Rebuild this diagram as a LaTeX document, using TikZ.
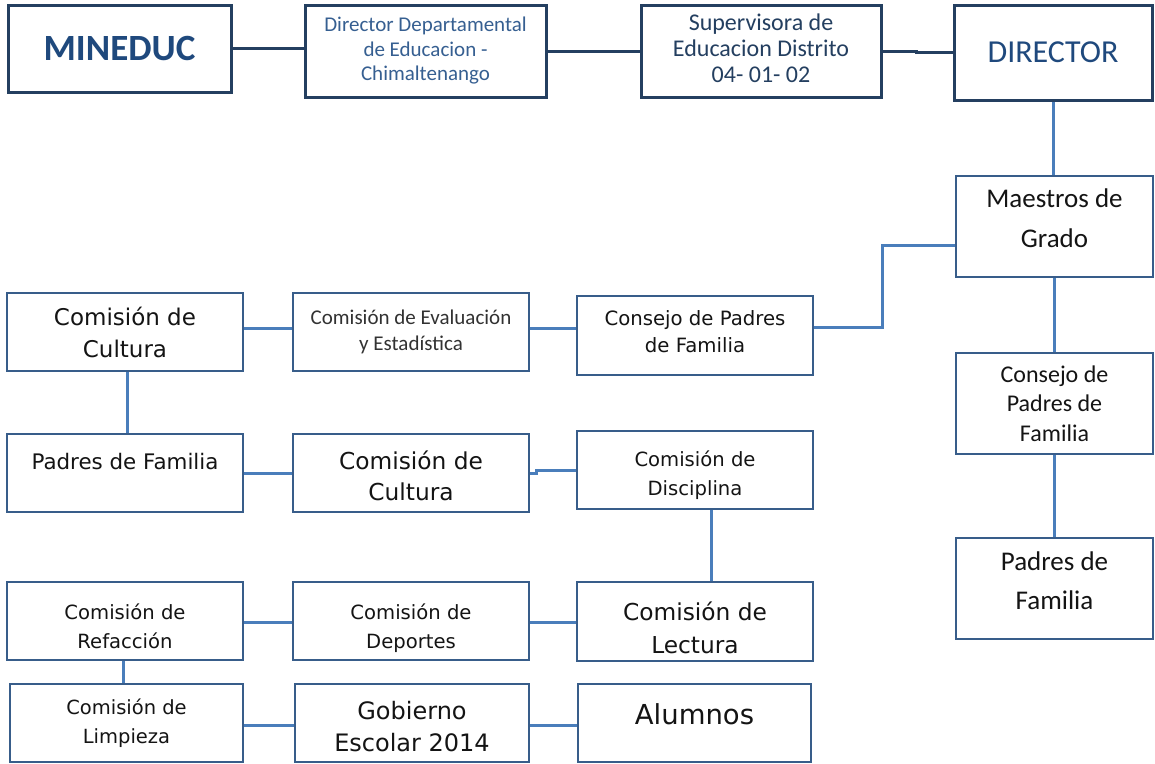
\documentclass[tikz,border=0pt]{standalone}
\usepackage{fontspec}
\setmainfont{Carlito}
\newfontfamily\calfont{Carlito}
\newfontfamily\verfont{DejaVu Sans}
\newcommand\myfs[2]{\fontsize{#1}{#2}\selectfont}
\definecolor{navy}{RGB}{36,63,96}
\definecolor{bord}{RGB}{56,93,138}
\definecolor{conn}{RGB}{74,126,187}
\definecolor{tnavy}{RGB}{31,73,125}
\definecolor{tblue}{RGB}{54,95,145}
\definecolor{tdark}{RGB}{20,20,20}
\definecolor{tgray}{RGB}{50,50,50}
\begin{document}
\begin{tikzpicture}[x=1pt,y=-1pt,
  box/.style={draw=bord, line width=2.5pt, fill=white, align=center, inner sep=0pt, text=tdark},
  topbox/.style={box, draw=navy, line width=3pt},
  wbox/.style={box, minimum width=236pt, minimum height=78pt},
  rbox/.style={box, minimum width=197pt, minimum height=101pt},
  link/.style={draw=conn, line width=3pt},
  toplink/.style={draw=navy, line width=3pt}]
\useasboundingbox (0,0) rectangle (1155,763);
% top row
\node[topbox, minimum width=223pt, minimum height=87pt, text=tnavy, font={\calfont\bfseries\myfs{37}{40}}] (mineduc) at (119.5,48.5) {MINEDUC};
\node[topbox, minimum width=241pt, minimum height=92pt, text=tblue, font={\calfont\myfs{21}{24.5}}] (dirdep) at (425.5,51) {Director Departamental\\de Educacion -\\Chimaltenango};
\node[topbox, minimum width=240pt, minimum height=92pt, text=navy, font={\calfont\myfs{24}{26}}, text depth=6pt] (superv) at (761,51) {Supervisora de\\Educacion Distrito\\04- 01- 02};
\node[topbox, minimum width=198pt, minimum height=95pt, text=tnavy, font={\calfont\myfs{32}{36}}] (director) at (1053,52.5) {DIRECTOR};
% right column
\node[rbox, font={\calfont\myfs{27}{40}}, text depth=16pt] (maestros) at (1054.5,226.5) {Maestros de\\Grado};
\node[rbox, font={\calfont\myfs{24}{29.5}}] (consR) at (1054.5,403.5) {Consejo de\\Padres de\\Familia};
\node[rbox, font={\calfont\myfs{27}{39}}, text depth=15pt] (padresR) at (1054.5,588.5) {Padres de\\Familia};
% row 2
\node[wbox, font={\verfont\myfs{23}{32}}] (cultura1) at (125,332) {Comisión de\\Cultura};
\node[wbox, font={\calfont\myfs{21}{26}}, text=tgray] (evaluacion) at (411,332) {Comisión de Evaluación\\y Estadística};
\node[wbox, minimum height=79pt, font={\verfont\myfs{19.7}{27}}, text depth=7pt] (consM) at (695,335.5) {Consejo de Padres\\de Familia};
% row 3
\node[wbox, font={\verfont\myfs{21.4}{26}}, text depth=23pt] (padresL) at (125,473) {Padres de Familia};
\node[wbox, font={\verfont\myfs{23.3}{31}}, text height=55.6pt] (cultura2) at (411,473) {Comisión de\\Cultura};
\node[wbox, font={\verfont\myfs{19.6}{29}}, text height=54.7pt] (disciplina) at (695,470) {Comisión de\\Disciplina};
% row 4
\node[wbox, font={\verfont\myfs{19.6}{29}}, text height=54.7pt] (refaccion) at (125,621) {Comisión de\\Refacción};
\node[wbox, font={\verfont\myfs{19.6}{29}}, text height=58.7pt] (deportes) at (411,621) {Comisión de\\Deportes};
\node[wbox, minimum height=79pt, font={\verfont\myfs{23.3}{33}}, text height=63.6pt] (lectura) at (695,621.5) {Comisión de\\Lectura};
% row 5
\node[wbox, minimum width=233pt, font={\verfont\myfs{19.5}{29}}] (limpieza) at (126.5,723) {Comisión de\\Limpieza};
\node[wbox, minimum width=234pt, font={\verfont\myfs{24}{32}}, text height=58.2pt] (gobierno) at (412,723) {Gobierno\\Escolar 2014};
\node[wbox, minimum width=233pt, font={\verfont\myfs{27.5}{30}}, text depth=18pt] (alumnos) at (694.5,723) {Alumnos};
% top connectors
\draw[toplink] (mineduc.east) -- (mineduc.east -| dirdep.west);
\draw[toplink] (dirdep.east) -- (superv.west);
\draw[toplink] (superv.east) -- ++(34,0) |- (director.west);
% right column connectors
\draw[link] (director.south) -- (director.south |- maestros.north);
\draw[link] (maestros.south) -- (consR.north);
\draw[link] (consR.south) -- (padresR.north);
\draw[link] ([yshift=-18.5pt]maestros.west) -- ++(-72,0) |- ([yshift=8.5pt]consM.east);
% row 2
\draw[link] ([yshift=4pt]cultura1.east) -- ([yshift=4pt]evaluacion.west);
\draw[link] ([yshift=4pt]evaluacion.east) -- ([yshift=4pt]evaluacion.east -| consM.west);
\draw[link] ([xshift=2pt]cultura1.south) -- ([xshift=2pt]padresL.north);
% row 3
\draw[link] (padresL.east) -- (cultura2.west);
\draw[link] (cultura2.east) -- ++(6,0) |- (disciplina.west);
\draw[link] ([xshift=16pt]disciplina.south) -- ([xshift=16pt]disciplina.south |- lectura.north);
% row 4
\draw[link] ([yshift=-1pt]refaccion.east) -- ([yshift=-1pt]deportes.west);
\draw[link] ([yshift=-1pt]deportes.east) -- ([yshift=-1pt]deportes.east -| lectura.west);
\draw[link] ([xshift=-2pt]refaccion.south) -- ([xshift=-3.5pt]limpieza.north);
% row 5
\draw[link] ([yshift=-2pt]limpieza.east) -- ([yshift=-2pt]gobierno.west);
\draw[link] ([yshift=-2pt]gobierno.east) -- ([yshift=-2pt]alumnos.west);
\end{tikzpicture}
\end{document}
